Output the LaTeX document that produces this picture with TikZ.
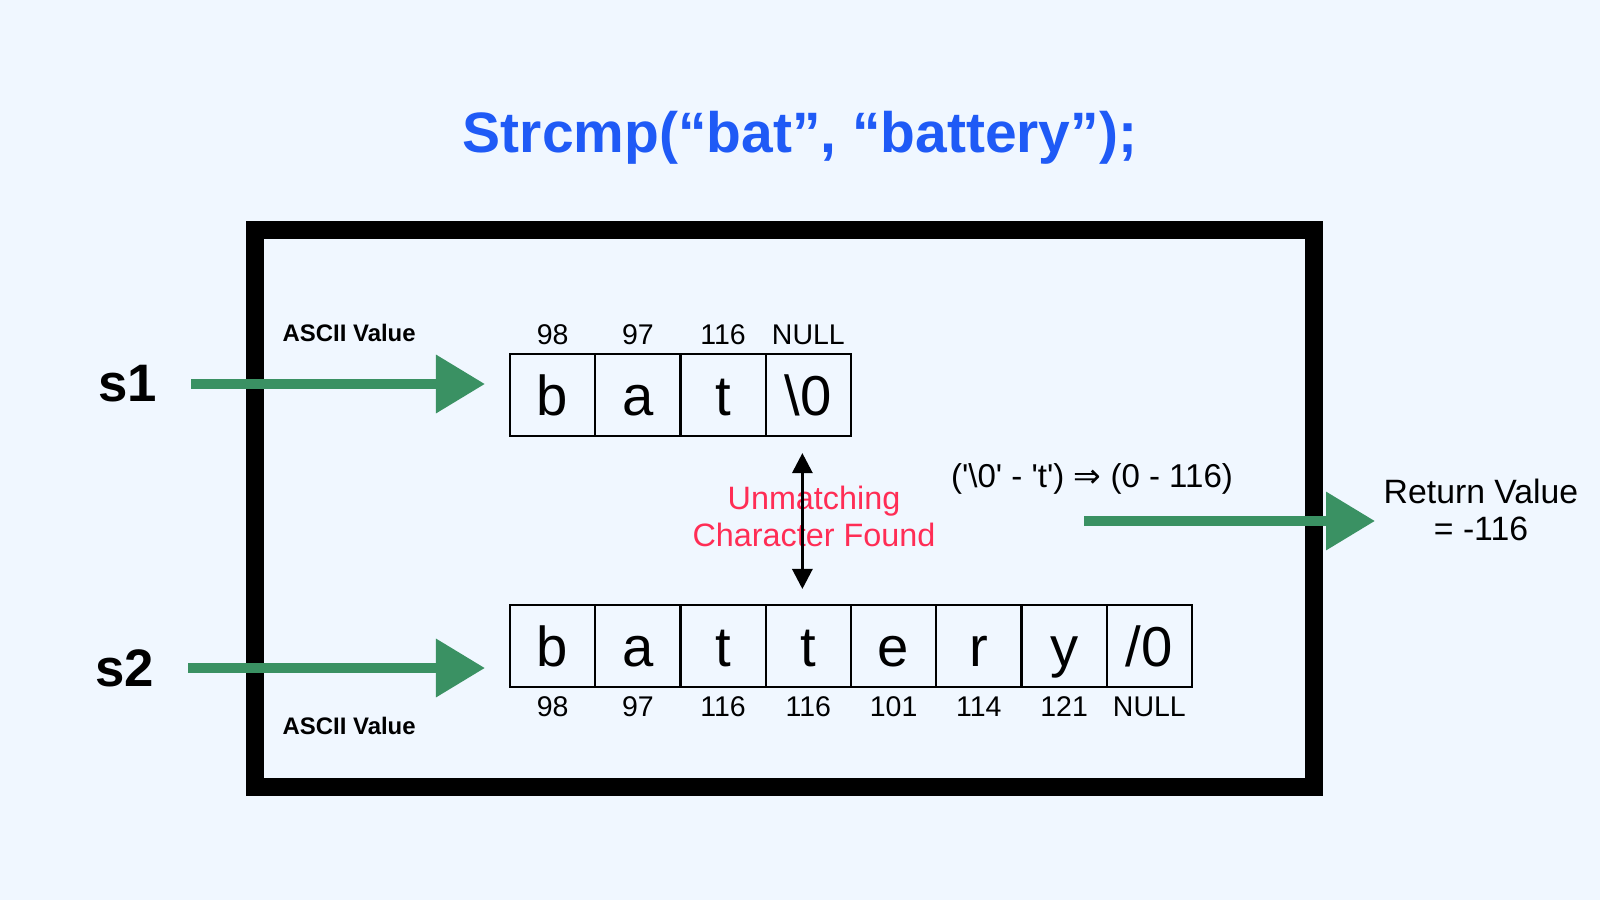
\documentclass[tikz,border=0pt]{standalone}
\usepackage{fontspec}
\setmainfont{Liberation Sans}
\newfontfamily\arrowfont{DejaVu Sans}
\usetikzlibrary{arrows.meta,positioning}

\definecolor{pagebg}{RGB}{240,247,255}
\definecolor{titleblue}{RGB}{31,90,246}
\definecolor{flowgreen}{RGB}{58,145,99}
\definecolor{alertred}{RGB}{255,45,85}

\begin{document}
\begin{tikzpicture}
    [x=0.01cm,y=-0.01cm,
    cell/.style={rectangle,draw=black,line width=0.7pt,
    minimum width=0.852cm,minimum height=0.82cm,inner sep=0pt,outer sep=0pt,
    text height=0.41cm,text depth=0pt,font=\fontsize{16}{19}\selectfont},
    code/.style={inner sep=0pt,font=\fontsize{8.1}{10}\selectfont},
    tag/.style={inner sep=0pt,anchor=west,font=\fontsize{6.8}{8}\selectfont\bfseries},
    flow/.style={draw=flowgreen,line width=0.1cm,
    -{Triangle[length=0.49cm,width=0.56cm]}},
    both/.style={draw=black,line width=0.03cm,
    {Triangle[length=0.2cm,width=0.2cm]}-{Triangle[length=0.2cm,width=0.2cm]}}]
    \useasboundingbox[fill=pagebg] (0,0) rectangle (1600,900);
    \draw[line width=0.18cm] (255,230) rectangle (1314,787);

    \node[titleblue,font=\fontsize{16.2}{20}\selectfont\bfseries] (title) at (800,138)
        {Strcmp(“bat”, “battery”);};

    % string s1
    \node[inner sep=0pt,font=\fontsize{15}{18}\selectfont\bfseries] (s1) at (128,384) {s1};
    \node[tag] (tag1) at (282,333) {ASCII Value};
    \node[cell,anchor=north west] (t1) at (510,354) {b};
    \node[cell,right=0pt of t1] (t2) {a};
    \node[cell,right=0pt of t2] (t3) {t};
    \node[cell,right=0pt of t3] (t4) {\textbackslash 0};
    \node[code,above=0.09cm of t1] {98};
    \node[code,above=0.09cm of t2] {97};
    \node[code,above=0.09cm of t3] {116};
    \node[code,above=0.09cm of t4] {NULL};

    % string s2
    \node[inner sep=0pt,font=\fontsize{15}{18}\selectfont\bfseries] (s2) at (125,668) {s2};
    \node[tag] (tag2) at (282,726) {ASCII Value};
    \node[cell,anchor=north west] (u1) at (510,605) {b};
    \node[cell,right=0pt of u1] (u2) {a};
    \node[cell,right=0pt of u2] (u3) {t};
    \node[cell,right=0pt of u3] (u4) {t};
    \node[cell,right=0pt of u4] (u5) {e};
    \node[cell,right=0pt of u5] (u6) {r};
    \node[cell,right=0pt of u6] (u7) {y};
    \node[cell,right=0pt of u7] (u8) {/0};
    \node[code,below=0.09cm of u1] {98};
    \node[code,below=0.09cm of u2] {97};
    \node[code,below=0.09cm of u3] {116};
    \node[code,below=0.09cm of u4] {116};
    \node[code,below=0.09cm of u5] {101};
    \node[code,below=0.09cm of u6] {114};
    \node[code,below=0.09cm of u7] {121};
    \node[code,below=0.09cm of u8] {NULL};

    % mismatch and result
    \node[alertred,align=center,font=\fontsize{9.2}{10.5}\selectfont] (miss) at (814,516)
        {Unmatching\\Character Found};
    \node[font=\fontsize{9.4}{11}\selectfont] (calc) at (1092,479)
        {(\textquotesingle\textbackslash 0\textquotesingle{} - \textquotesingle t\textquotesingle) {\arrowfont ⇒} (0 - 116)};
    \node[inner sep=0pt,align=center,font=\fontsize{9.6}{10.5}\selectfont] (ret) at (1481,510)
        {Return Value\\= -116};
    \coordinate (retfrom) at (1084,521);

    \draw[flow] ([xshift=0.33cm]s1.east) -- ([xshift=-0.25cm]s1.east -| t1.west);
    \draw[flow] ([xshift=0.33cm]s2.east) -- ([xshift=-0.25cm]s2.east -| u1.west);
    \draw[flow] (retfrom) -- ([xshift=-0.08cm]retfrom -| ret.west);
    \draw[both] ([xshift=-0.06cm,yshift=-0.17cm]t4.south) -- ([xshift=-0.06cm,yshift=0.16cm]u4.north);
\end{tikzpicture}
\end{document}
